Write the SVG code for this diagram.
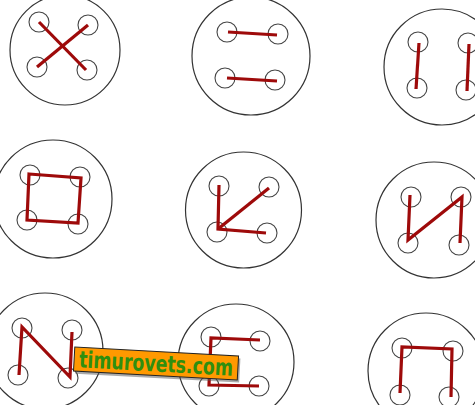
<svg xmlns="http://www.w3.org/2000/svg" width="475" height="405" viewBox="0 0 475 405">
<style>
.btn{fill:none;stroke:#333;stroke-width:1.2}
.hole{fill:none;stroke:#444;stroke-width:1.1}
.thread{fill:none;stroke:#9e0a0a;stroke-width:3.2;stroke-linecap:butt;stroke-linejoin:miter}
.lbl{font-family:"DejaVu Sans","Liberation Sans",sans-serif;font-weight:bold;font-size:23px;fill:#2f8f0f}
</style>
<rect width="475" height="405" fill="#fff"/>
<g id="button1">
<circle class="btn" cx="65" cy="50" r="55"/>
<circle class="hole" cx="39" cy="22" r="10"/>
<circle class="hole" cx="88" cy="25" r="10"/>
<circle class="hole" cx="37" cy="67" r="10"/>
<circle class="hole" cx="87" cy="70" r="10"/>
</g>
<g id="button2">
<circle class="btn" cx="251" cy="56" r="59"/>
<circle class="hole" cx="227" cy="32" r="10"/>
<circle class="hole" cx="278" cy="34" r="10"/>
<circle class="hole" cx="225" cy="78" r="10"/>
<circle class="hole" cx="275" cy="80" r="10"/>
</g>
<g id="button3">
<circle class="btn" cx="442" cy="67" r="58"/>
<circle class="hole" cx="418" cy="42" r="10"/>
<circle class="hole" cx="468" cy="43" r="10"/>
<circle class="hole" cx="417" cy="88" r="10"/>
<circle class="hole" cx="466" cy="90" r="10"/>
</g>
<g id="button4">
<circle class="btn" cx="53" cy="199" r="59"/>
<circle class="hole" cx="30" cy="175" r="10"/>
<circle class="hole" cx="80" cy="177" r="10"/>
<circle class="hole" cx="27" cy="220" r="10"/>
<circle class="hole" cx="78" cy="224" r="10"/>
</g>
<g id="button5">
<circle class="btn" cx="243.5" cy="210" r="58"/>
<circle class="hole" cx="219" cy="186" r="10"/>
<circle class="hole" cx="269" cy="187" r="10"/>
<circle class="hole" cx="217" cy="232" r="10"/>
<circle class="hole" cx="267" cy="233" r="10"/>
</g>
<g id="button6">
<circle class="btn" cx="434" cy="220" r="58"/>
<circle class="hole" cx="411" cy="197" r="10"/>
<circle class="hole" cx="461" cy="197" r="10"/>
<circle class="hole" cx="408" cy="243" r="10"/>
<circle class="hole" cx="459" cy="245" r="10"/>
</g>
<g id="button7">
<circle class="btn" cx="45" cy="351" r="58"/>
<circle class="hole" cx="22" cy="328" r="10"/>
<circle class="hole" cx="72" cy="330" r="10"/>
<circle class="hole" cx="18" cy="375" r="10"/>
<circle class="hole" cx="68" cy="378" r="10"/>
</g>
<g id="button8">
<circle class="btn" cx="236" cy="362" r="58"/>
<circle class="hole" cx="211" cy="337" r="10"/>
<circle class="hole" cx="260" cy="341" r="10"/>
<circle class="hole" cx="209" cy="386" r="10"/>
<circle class="hole" cx="259" cy="386" r="10"/>
</g>
<g id="button9">
<circle class="btn" cx="426" cy="371" r="58"/>
<circle class="hole" cx="402" cy="348" r="10"/>
<circle class="hole" cx="453" cy="351" r="10"/>
<circle class="hole" cx="400" cy="395" r="10"/>
<circle class="hole" cx="449" cy="397" r="10"/>
</g>
<g id="connectors">
<line class="thread" x1="39" y1="22" x2="86" y2="70"/>
<line class="thread" x1="88" y1="25" x2="37" y2="67"/>
<line class="thread" x1="228" y1="32" x2="277" y2="35"/>
<line class="thread" x1="227" y1="78" x2="277" y2="81"/>
<line class="thread" x1="419" y1="43" x2="416" y2="89"/>
<line class="thread" x1="469" y1="44" x2="467" y2="91"/>
<polygon class="thread" points="29,174 81,178 78,223 27,220" stroke-width="3.6"/>
<polyline class="thread" points="219,185 218,229 266,233"/>
<line class="thread" x1="269" y1="188" x2="218" y2="229"/>
<polyline class="thread" points="410,195 408,240 462,197 460,243"/>
<polyline class="thread" points="19,375 22,327 70,377 72,332"/>
<polyline class="thread" points="260,340 211,338 209,385 259,386"/>
<polyline class="thread" points="400,393 402,347 452,349 451,397"/>
</g>
<g id="banner" transform="rotate(3.1 156 364)">
<rect x="76" y="354" width="164" height="24" fill="#555" opacity="0.5"/>
<rect x="74" y="351.5" width="164" height="24" fill="#ff9900" stroke="#222" stroke-width="1"/>
<text class="lbl" x="156" y="371.5" text-anchor="middle" textLength="154" lengthAdjust="spacingAndGlyphs">timurovets.com</text>
</g>
</svg>
